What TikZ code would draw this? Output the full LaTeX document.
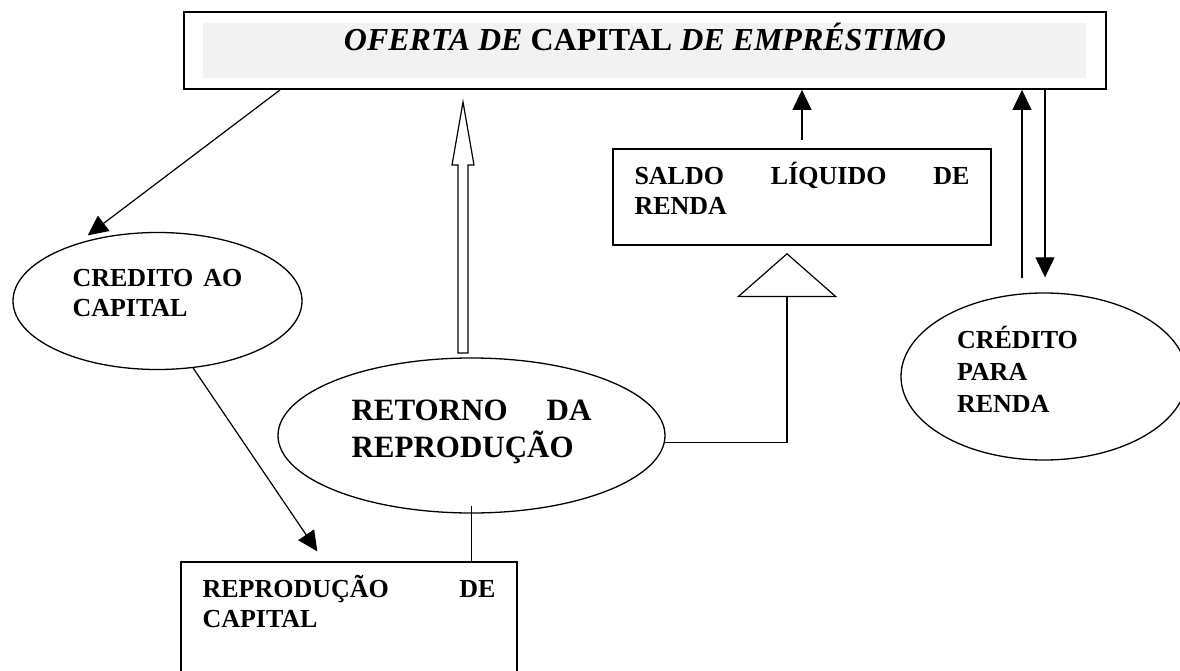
\documentclass[tikz,border=0pt]{standalone}
\usepackage{fontspec}
\setmainfont{Liberation Serif}
\usetikzlibrary{arrows.meta,calc,shapes.geometric}
\definecolor{bandgray}{HTML}{F2F2F2}
\tolerance=10000
\hyphenpenalty=10000
\uchyph=0

\begin{document}
\begin{tikzpicture}[
  x=1pt, y=-1pt,
  line/.style={draw, line width=1.2pt, -{Triangle[length=20pt,width=19pt]}},
  plain/.style={draw, line width=1.2pt},
  box/.style={rectangle, draw, line width=1.3pt, align=justify, inner ysep=0pt,
              font=\fontsize{26}{30}\selectfont\bfseries},
  oval/.style={ellipse, draw, line width=1.3pt, align=justify, inner sep=2pt,
              font=\fontsize{26}{30}\selectfont\bfseries}
]
\clip (0,0) rectangle (1180,671);

% =======================================================
%                     MAIN COMPONENTS
% =======================================================
\fill[bandgray] (203,23) rectangle (1086,78);
\node[draw, line width=1.8pt, minimum width=922pt, inner sep=0pt,
      text height=39pt, text depth=38pt,
      font=\fontsize{32}{38}\selectfont\bfseries] (oferta) at (645,50.5)
  {\textit{OFERTA DE} CAPITAL \textit{DE EMPRÉSTIMO}};

\node[box, minimum width=378pt, text width=335pt, text height=36pt, text depth=60pt]
  (saldo) at (802,197) {SALDO LÍQUIDO DE RENDA};
\node[box, minimum width=336pt, text width=293pt, text height=35pt, text depth=103pt]
  (reprod) at (349,631) {REPRODUÇÃO DE CAPITAL};

\node[oval, minimum width=289pt, minimum height=137pt, text width=170pt,
      text height=20pt, text depth=50pt] (capcred) at (157.5,301) {CREDITO AO CAPITAL};
\node[oval, minimum width=387pt, minimum height=155pt, text width=240pt,
      text height=22pt, text depth=53pt, font=\fontsize{31}{37}\selectfont\bfseries]
  (retorno) at (471.5,435.5) {RETORNO DA REPRODUÇÃO};
\node[oval, align=left, minimum width=286pt, minimum height=167pt, text width=174pt,
      text height=20pt, text depth=77pt, font=\fontsize{26}{32}\selectfont\bfseries]
  (credrenda) at (1044,376.5) {CRÉDITO\\PARA\\RENDA};

% =======================================================
%                     CONNECTIONS
% =======================================================

% Oferta -> Credito ao capital -> Reproducao
\draw[line] ([xshift=97pt]oferta.south west) -- ([yshift=5pt]capcred.139);
\draw[line] (capcred.-62) -- ([xshift=137pt,yshift=10pt]reprod.north west);

% Retorno <-> Reproducao
\draw[plain] ([yshift=8pt]retorno.south) -- (retorno.south |- reprod.north);

% Retorno -> Oferta (hollow arrow)
\coordinate (hfoot) at (463,353);
\draw[plain] (hfoot) ++(-5,0) -- ++(0,-188) -- ++(-6,0) -- ++(11,-63)
  -- ++(11,63) -- ++(-6,0) -- ++(0,188) -- cycle;

% Retorno -> Saldo liquido
\coordinate (apex) at (787,253);
\draw[plain, -{Triangle[open, length=44pt, width=100pt]}] (retorno.-2.5) -| (apex);

% Saldo liquido -> Oferta
\draw[line] ([yshift=8pt]saldo.north) -- (saldo.north |- oferta.south);

% Credito para renda <-> Oferta
\coordinate (upfoot) at ([xshift=-22pt,yshift=14pt]credrenda.north);
\coordinate (downtip) at ([xshift=1pt,yshift=15pt]credrenda.north);
\draw[line] (upfoot) -- (upfoot |- oferta.south);
\draw[line] (downtip |- oferta.south) -- (downtip);

\end{tikzpicture}
\end{document}
